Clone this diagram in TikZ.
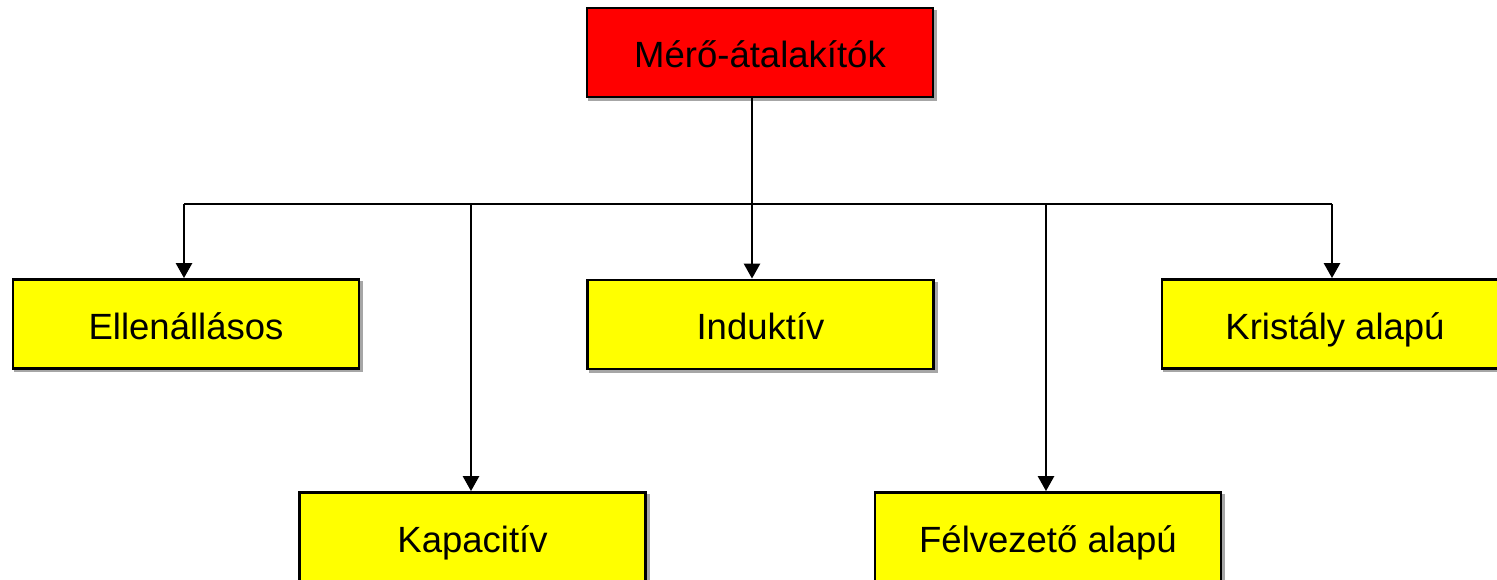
\documentclass[tikz,border=0pt]{standalone}
\usepackage{fontspec}
\setmainfont{Liberation Sans}
\usetikzlibrary{arrows.meta}
\definecolor{boxred}{RGB}{255,0,0}
\definecolor{boxyellow}{RGB}{255,255,0}
\begin{document}
\begin{tikzpicture}[x=1pt,y=-1pt,
  box/.style={draw=black,line width=2.8pt,minimum width=346pt,minimum height=89pt,
    inner sep=0pt,text height=30pt,text depth=0pt,
    font=\fontsize{36.5}{40}\selectfont},
  shade/.style={fill=black!35,draw=none},
  link/.style={line width=2.6pt,draw=black},
  arr/.style={link,-{Triangle[width=16pt,length=15pt]}}]
\useasboundingbox (0,0) rectangle (1497,579);
% faint offset shadows behind the boxes
\foreach \cx/\cy in {760/52.5,186/324,760.5/324.5,1335/324,472.5/537,1048/537}
  \fill[shade] (\cx+2.5-174.5,\cy+2.5-45.5) rectangle (\cx+2.5+174.5,\cy+2.5+45.5);
% boxes
\node[box,fill=boxred] (root) at (760,52.5) {Mérő-átalakítók};
\node[box,fill=boxyellow] (ell) at (186,324) {Ellenállásos};
\node[box,fill=boxyellow] (ind) at (760.5,324.5) {Induktív};
\node[box,fill=boxyellow] (kri) at (1335,324) {Kristály alapú};
\node[box,fill=boxyellow] (kap) at (472.5,537) {Kapacitív};
\node[box,fill=boxyellow] (fel) at (1048,537) {Félvezető alapú};
% bus
\coordinate (bus) at (752,204);
\coordinate (bl) at (184,204);
\coordinate (br) at (1332,204);
\draw[link] (root.south -| bus) -- (bus);
\draw[link] (bl) -- (br);
\draw[arr] (bl) -- (bl |- ell.north);
\draw[arr] (471,204) -- (471,0 |- kap.north);
\draw[arr] (bus) -- (bus |- ind.north);
\draw[arr] (1046,204) -- (1046,0 |- fel.north);
\draw[arr] (br) -- (br |- kri.north);
\end{tikzpicture}
\end{document}
